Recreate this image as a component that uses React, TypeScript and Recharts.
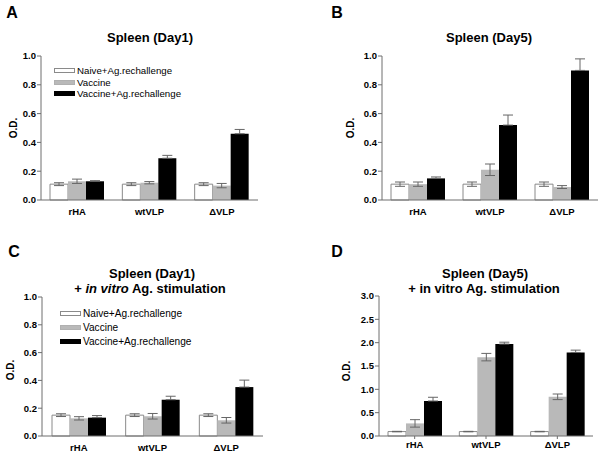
import React from 'react'
import { Bar, BarChart, ErrorBar, Legend, XAxis, YAxis } from 'recharts'

const categories = ['rHA', 'wtVLP', '\u0394VLP']
const seriesNames = ['Naive+Ag.rechallenge', 'Vaccine', 'Vaccine+Ag.rechallenge']
const seriesFill = ['#ffffff', '#b9b9b9', '#000000']
const seriesStroke = ['#8a8a8a', '#b0b0b0', '#000000']

const ticksOne = [0, 0.2, 0.4, 0.6, 0.8, 1.0]
const ticksThree = [0, 0.5, 1.0, 1.5, 2.0, 2.5, 3.0]

// A: Spleen (Day1)
const naiveA = [0.11, 0.11, 0.11]
const naiveErrA = [0.01, 0.01, 0.01]
const vacA = [0.13, 0.12, 0.1]
const vacErrA = [0.015, 0.008, 0.015]
const vacAgA = [0.13, 0.29, 0.46]
const vacAgErrA = [0.004, 0.02, 0.03]

// B: Spleen (Day5)
const naiveB = [0.11, 0.11, 0.11]
const naiveErrB = [0.015, 0.015, 0.015]
const vacB = [0.11, 0.21, 0.09]
const vacErrB = [0.015, 0.04, 0.01]
const vacAgB = [0.15, 0.52, 0.9]
const vacAgErrB = [0.01, 0.07, 0.08]

// C: Spleen (Day1) + in vitro
const naiveC = [0.15, 0.15, 0.15]
const naiveErrC = [0.01, 0.01, 0.01]
const vacC = [0.127, 0.142, 0.113]
const vacErrC = [0.012, 0.02, 0.02]
const vacAgC = [0.132, 0.261, 0.352]
const vacAgErrC = [0.015, 0.025, 0.05]

// D: Spleen (Day5) + in vitro
const naiveD = [0.095, 0.095, 0.095]
const naiveErrD = [0.005, 0.005, 0.005]
const vacD = [0.27, 1.69, 0.84]
const vacErrD = [0.08, 0.08, 0.06]
const vacAgD = [0.75, 1.97, 1.79]
const vacAgErrD = [0.08, 0.04, 0.05]

const build = (n: number[], ne: number[], v: number[], ve: number[], va: number[], vae: number[]) =>
  categories.map((name, i) => ({
    name,
    naive: n[i],
    naiveErr: ne[i],
    vac: v[i],
    vacErr: ve[i],
    vacAg: va[i],
    vacAgErr: vae[i],
  }))

const dataA = build(naiveA, naiveErrA, vacA, vacErrA, vacAgA, vacAgErrA)
const dataB = build(naiveB, naiveErrB, vacB, vacErrB, vacAgB, vacAgErrB)
const dataC = build(naiveC, naiveErrC, vacC, vacErrC, vacAgC, vacAgErrC)
const dataD = build(naiveD, naiveErrD, vacD, vacErrD, vacAgD, vacAgErrD)

const FONT = '"Liberation Sans", Arial, sans-serif'
const AXIS = '#6e6e6e'
const keys = ['naive', 'vac', 'vacAg']

// lower whisker of the black bars is hidden inside the bar in the original
const errKey = (k: string) =>
  k === 'vacAg' ? (d: any) => [0, d.vacAgErr] : `${k}Err`

type PanelProps = {
  left: number
  top: number
  width: number
  height: number
  margin: { top: number; right: number; bottom: number; left: number }
  data: any[]
  ticks: number[]
  legend?: { left: number; top: number; row: number; fontSize: number }
  xTicks?: boolean
}

function Panel({ left, top, width, height, margin, data, ticks, legend, xTicks }: PanelProps) {
  const renderLegend = () => (
    <div style={{ fontFamily: FONT, fontSize: legend?.fontSize, color: '#000' }}>
      {seriesNames.map((s, i) => (
        <div key={s} style={{ display: 'flex', alignItems: 'center', height: legend?.row }}>
          <span
            style={{
              display: 'inline-block',
              width: 21,
              height: 5,
              background: seriesFill[i],
              border: `1px solid ${seriesStroke[i]}`,
              boxSizing: 'border-box',
              marginRight: 2,
            }}
          />
          <span>{s}</span>
        </div>
      ))}
    </div>
  )

  return (
    <div style={{ position: 'absolute', left, top, width, height }}>
      <BarChart width={width} height={height} data={data} margin={margin} barGap={0} barSize={18}>
        <XAxis
          dataKey="name"
          height={20}
          axisLine={{ stroke: AXIS }}
          tickLine={xTicks ? { stroke: AXIS } : false}
          tickSize={3}
          tickMargin={xTicks ? 2 : 5}
          tick={{ fontSize: 9.5, fontWeight: 'bold', fill: '#000', fontFamily: FONT }}
        />
        <YAxis
          width={30}
          type="number"
          domain={[ticks[0], ticks[ticks.length - 1]]}
          ticks={ticks}
          interval={0}
          tickFormatter={(v: number) => v.toFixed(1)}
          axisLine={{ stroke: AXIS }}
          tickLine={{ stroke: AXIS }}
          tickSize={4}
          tickMargin={1}
          tick={{ fontSize: 9.5, fontWeight: 'bold', fill: '#000', fontFamily: FONT }}
        />
        {legend && (
          <Legend
            layout="vertical"
            align="center"
            verticalAlign="middle"
            content={renderLegend}
            wrapperStyle={{ left: legend.left, top: legend.top, width: 'auto' }}
          />
        )}
        {keys.map((k, i) => (
          <Bar
            key={k}
            dataKey={k}
            name={seriesNames[i]}
            fill={seriesFill[i]}
            stroke={i === 0 ? seriesStroke[0] : 'none'}
            strokeWidth={1}
            isAnimationActive={false}
          >
            <ErrorBar
              dataKey={errKey(k) as any}
              width={5}
              stroke="#666"
              strokeWidth={1}
              direction="y"
              isAnimationActive={false}
            />
          </Bar>
        ))}
      </BarChart>
    </div>
  )
}

const txt = (x: number, y: number, size: number, content: React.ReactNode, rotate = false) => (
  <div
    style={{
      position: 'absolute',
      left: x,
      top: y,
      transform: `translate(-50%, -50%)${rotate ? ' rotate(-90deg)' : ''}`,
      fontFamily: FONT,
      fontWeight: 'bold',
      fontSize: size,
      whiteSpace: 'nowrap',
      lineHeight: 1,
      color: '#000',
    }}
  >
    {content}
  </div>
)

export default function App() {
  return (
    <div style={{ position: 'absolute', left: 0, top: 0, width: 603, height: 456, background: '#fff', overflow: 'hidden' }}>
      <Panel
        left={0}
        top={0}
        width={300}
        height={225}
        margin={{ top: 56, right: 42, bottom: 5, left: 11 }}
        data={dataA}
        ticks={ticksOne}
        legend={{ left: 54, top: 65, row: 11.5, fontSize: 9.7 }}
      />
      <Panel
        left={300}
        top={0}
        width={303}
        height={225}
        margin={{ top: 56, right: 5, bottom: 5, left: 52 }}
        data={dataB}
        ticks={ticksOne}
      />
      <Panel
        left={0}
        top={225}
        width={300}
        height={231}
        margin={{ top: 72, right: 37, bottom: 0, left: 12 }}
        data={dataC}
        ticks={ticksOne}
        legend={{ left: 60, top: 81, row: 14, fontSize: 10.1 }}
      />
      <Panel
        left={300}
        top={225}
        width={303}
        height={231}
        margin={{ top: 71, right: 10, bottom: 0, left: 49 }}
        data={dataD}
        ticks={ticksThree}
        xTicks
      />

      {txt(12, 13, 16, 'A')}
      {txt(337, 13, 16, 'B')}
      {txt(14, 252, 16, 'C')}
      {txt(337, 252, 16, 'D')}

      {txt(150, 37, 13, 'Spleen (Day1)')}
      {txt(489, 37, 13, 'Spleen (Day5)')}
      {txt(152, 273, 13, 'Spleen (Day1)')}
      {txt(150, 288, 13, <>+ <i>in vitro</i> Ag. stimulation</>)}
      {txt(485, 273, 13, 'Spleen (Day5)')}
      {txt(484, 288, 13, '+ in vitro Ag. stimulation')}

      {txt(14, 128, 10, 'O.D.', true)}
      {txt(351, 128, 10, 'O.D.', true)}
      {txt(11, 370, 10, 'O.D.', true)}
      {txt(347, 371, 10, 'O.D.', true)}
    </div>
  )
}
